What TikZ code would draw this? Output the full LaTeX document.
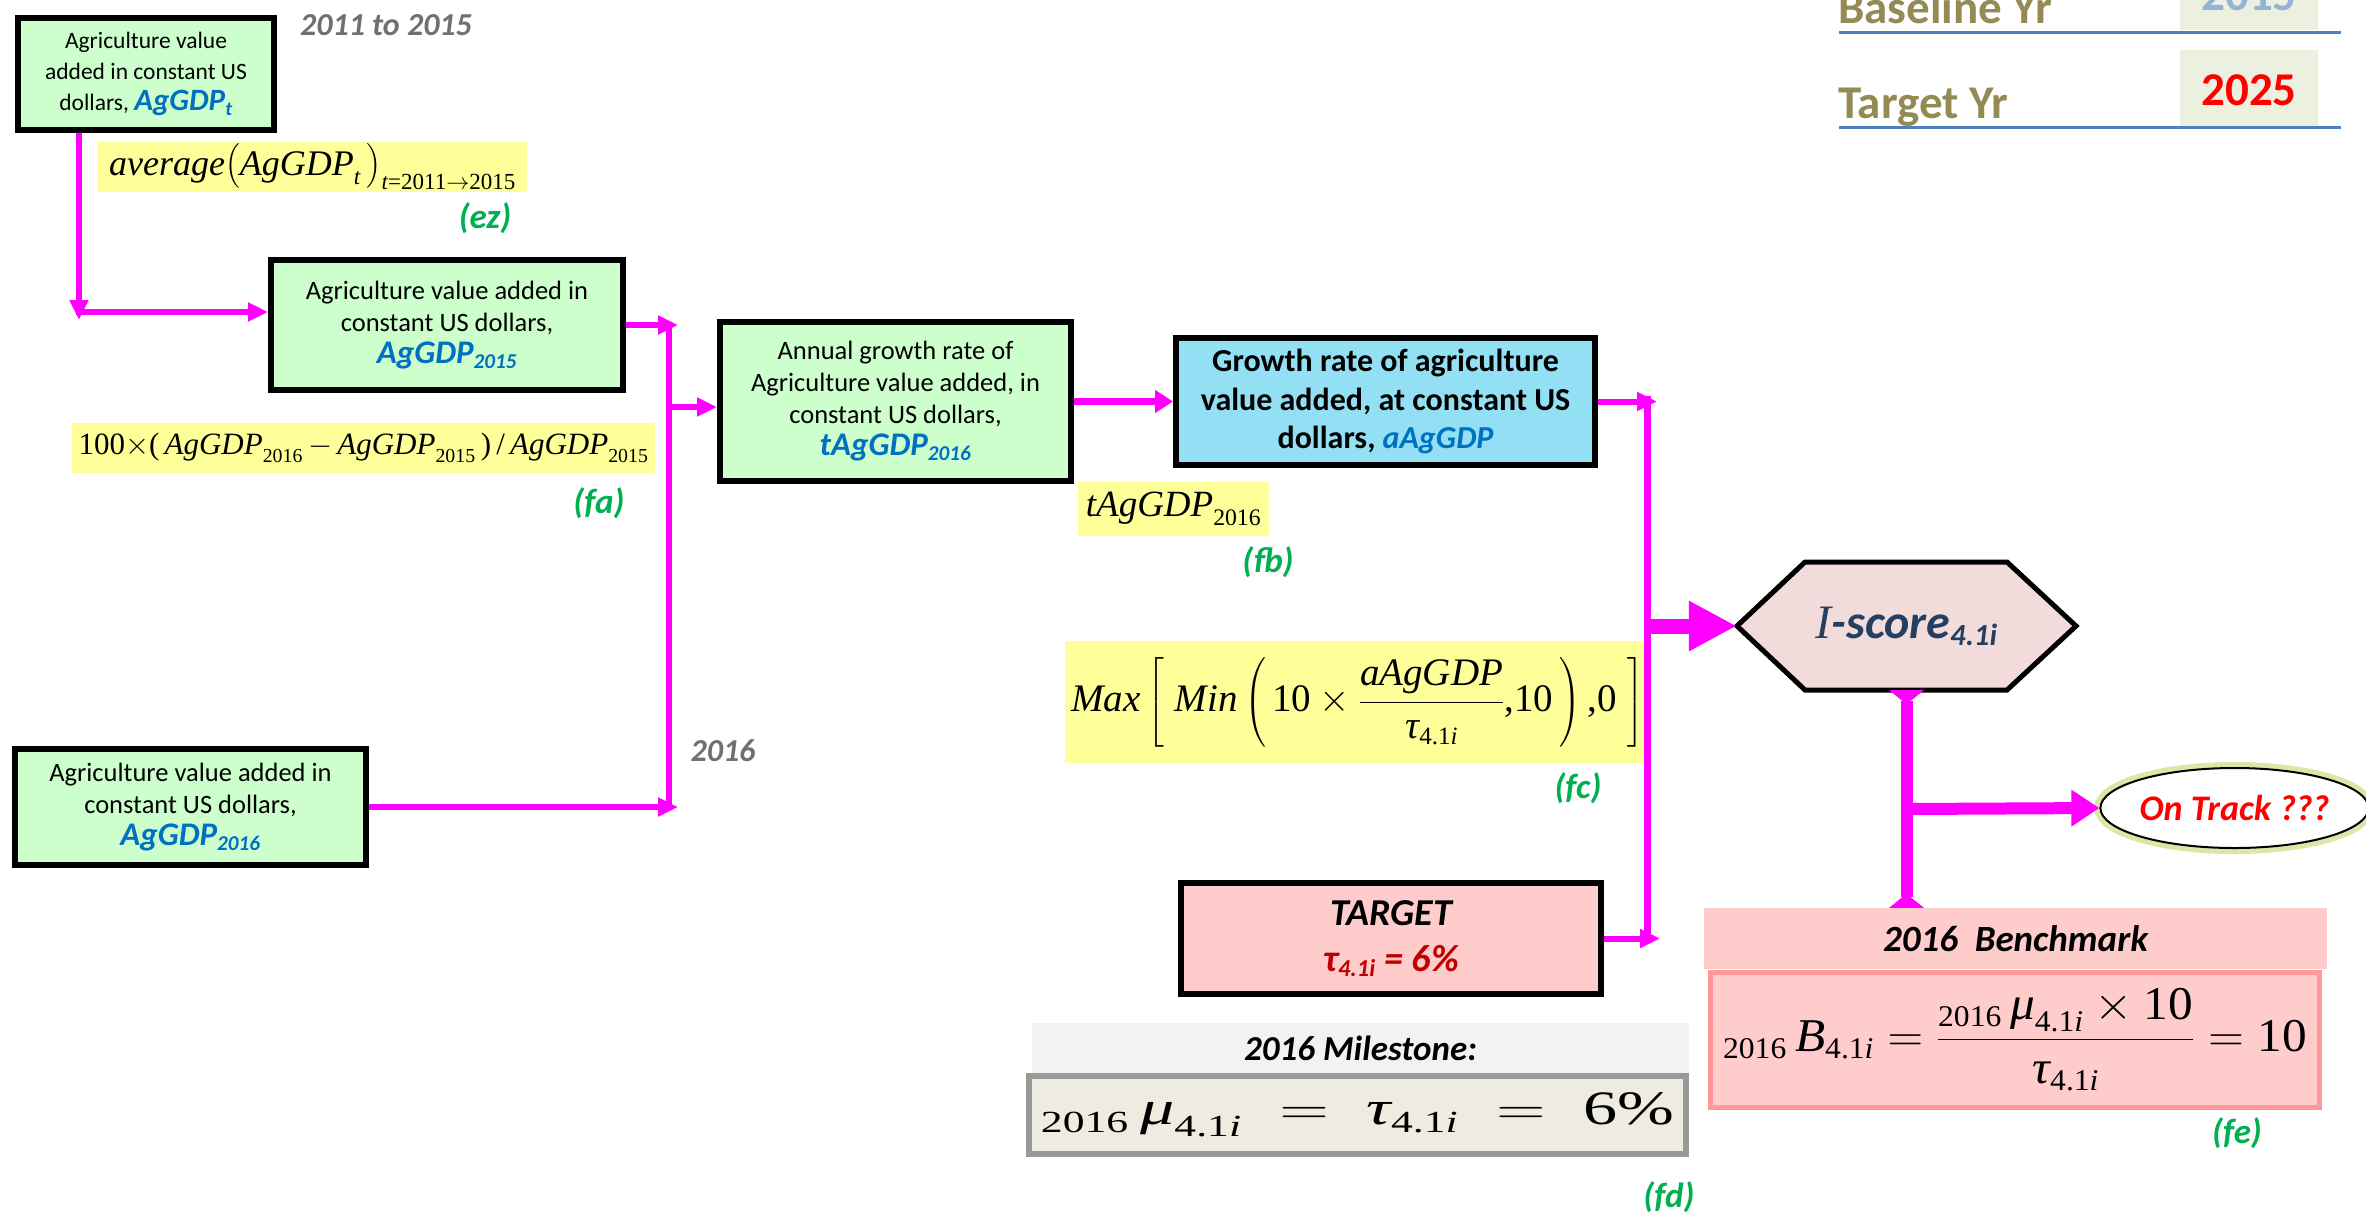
\documentclass[tikz,border=0pt]{standalone}
\usepackage{fix-cm}
\usepackage{amsmath}
\usepackage{graphicx}
\usepackage{fontspec}
\setmainfont{Carlito}
\newfontfamily\tms{Liberation Serif}
\usetikzlibrary{arrows.meta,shapes.geometric}
\renewcommand\defaultscriptratio{.64}
\definecolor{magc}{HTML}{FF00FF}
\definecolor{greenf}{HTML}{CCFFCC}
\definecolor{cyanf}{HTML}{93DFF3}
\definecolor{yellowf}{HTML}{FFFF99}
\definecolor{pinkf}{HTML}{FFCCCC}
\definecolor{bluet}{HTML}{0070C0}
\definecolor{greenl}{HTML}{00B050}
\definecolor{grayl}{HTML}{707070}
\definecolor{hexf}{HTML}{F2DCDB}
\definecolor{hexblue}{HTML}{243F60}
\definecolor{olive}{HTML}{948A54}
\definecolor{ulc}{HTML}{4F81BD}
\definecolor{lightg}{HTML}{EBF1DE}
\definecolor{lblue}{HTML}{95B3D7}
\definecolor{darkred}{HTML}{C00000}
\definecolor{msband}{HTML}{F2F2F2}
\definecolor{msfill}{HTML}{EEECE1}
\definecolor{msborder}{HTML}{999999}
\definecolor{bborder}{HTML}{FF9999}
\definecolor{glowc}{HTML}{D9E8A6}
\newcommand\fs[2]{\fontsize{#1}{#2}\selectfont}
\newcommand\ti[1]{\text{\tms\itshape #1}}
\newcommand\tu[1]{\text{\tms\upshape #1}}
\newcommand\vv[1]{{\color{bluet}\bfseries\itshape\fs{33}{36}#1}}
\tikzset{
  mag/.style={draw=magc, line width=6pt},
  gbox/.style={draw=black, line width=6pt, fill=greenf, align=center, inner sep=0pt, font=\fs{26.5}{32}},
  ybox/.style={fill=yellowf, inner sep=0pt},
  lbl/.style={text=greenl, font=\fs{35}{38}\bfseries\itshape, inner sep=0pt},
  glbl/.style={text=grayl, font=\fs{32}{34}\bfseries\itshape, inner sep=0pt},
  tipS/.style={-{Triangle[length=20pt,width=18pt]}},
  flare/.style={{Triangle[reversed,length=14pt,width=34pt]}-{Triangle[reversed,length=14pt,width=34pt]}}
}
\begin{document}
\begin{tikzpicture}[x=1pt,y=-1pt]
\useasboundingbox (0,0) rectangle (2366,1224);
\fill[white] (0,0) rectangle (2366,1224);
\begin{scope}
\clip (0,0) rectangle (2366,1224);

% top right legend
\node[fill=lightg, minimum width=138pt, minimum height=77pt, inner sep=0pt] (b15box) at (2249,-8.5) {};
\node[anchor=base, text=lblue, font=\fs{47}{50}\bfseries, inner sep=0pt] (b15) at (2249,10) {2015};
\node[fill=lightg, minimum width=138pt, minimum height=77pt, inner sep=0pt] (b25box) at (2249,88.5) {};
\node[anchor=base, text=red, font=\fs{47}{50}\bfseries, inner sep=0pt] (b25) at (2249,105) {2025};
\node[anchor=base west, text=olive, font=\fs{47}{50}\bfseries, inner sep=0pt] (basey) at (1838,23) {Baseline Yr};
\node[anchor=base west, text=olive, font=\fs{47}{50}\bfseries, inner sep=0pt] (targy) at (1838,118) {Target Yr};
\draw[ulc, line width=3pt] (1839,32) -- (2341,32);
\draw[ulc, line width=3pt] (1839,127) -- (2341,127);

% green boxes
\node[gbox, minimum width=256pt, minimum height=112pt, font=\fs{23.5}{31}] (box1) at (146,74)
  {Agriculture value\\added in constant US\\dollars,\ {\color{bluet}\bfseries\itshape\fs{31}{33}AgGDP\textsubscript{t}}};
\node[gbox, minimum width=352pt, minimum height=130pt] (box2) at (447,325)
  {Agriculture value added in\\constant US dollars,\\\vv{AgGDP\textsubscript{2015}}};
\node[gbox, minimum width=351pt, minimum height=116pt] (box0) at (190.5,807)
  {Agriculture value added in\\constant US dollars,\\\vv{AgGDP\textsubscript{2016}}};
\node[gbox, minimum width=351pt, minimum height=159pt] (box3) at (895.5,401.5)
  {Annual growth rate of\\Agriculture value added, in\\constant US dollars,\\\vv{tAgGDP\textsubscript{2016}}};
\node[draw=black, line width=6pt, fill=cyanf, align=center, inner sep=0pt, font=\fs{32}{38.5}\bfseries,
  minimum width=419pt, minimum height=127pt] (box4) at (1385.5,401.5)
  {Growth rate of agriculture\\value added, at constant US\\dollars, {\color{bluet}\itshape aAgGDP}};
\node[draw=black, line width=6pt, fill=pinkf, align=center, inner sep=0pt, font=\fs{38}{46}\bfseries\itshape,
  minimum width=420pt, minimum height=111pt] (target) at (1391,938.5)
  {TARGET\\{\color{darkred}τ\textsubscript{4.1i} = 6\%}};

% gray labels
\node[glbl] (yrs) at (386,25) {2011 to 2015};
\node[glbl] (y16) at (723,751) {2016};

% yellow formulas
\node[ybox, minimum width=429pt, minimum height=50pt, font=\fs{36}{40}] (fez) at (312.5,167)
  {\(\ti{average}\big(\ti{AgGDP}_{\ti{t}}\,\big)_{\ti{t}\tu{=2011}\rightarrow\tu{2015}}\)};
\node[ybox, minimum width=583pt, minimum height=50pt, font=\fs{31}{34}] (ffa) at (363.5,448)
  {\(\tu{100}{\times}\tu{(}\,\ti{AgGDP}_{\tu{2016}}\,{-}\,\ti{AgGDP}_{\tu{2015}}\,\tu{)}\,\tu{/}\,\ti{AgGDP}_{\tu{2015}}\)};
\node[ybox, minimum width=191pt, minimum height=54pt, font=\fs{37}{40}] (ffb) at (1173.5,509)
  {\(\ti{tAgGDP}_{\tu{2016}}\)};
\node[ybox, minimum width=586pt, minimum height=122pt, font=\fs{39}{42}] (ffc) at (1358,702)
  {\(\ti{Max}\left[\;\ti{Min}\left(\,\tu{10}\times\dfrac{\ti{aAgGDP}}{\ti{τ}_{\tu{4.1}\ti{i}}}\tu{,10}\,\right)\tu{,0}\;\right]\)};

% green labels
\node[lbl] (lez) at (485,218) {(ez)};
\node[lbl] (lfa) at (599,503) {(fa)};
\node[lbl] (lfb) at (1268,562) {(fb)};
\node[lbl] (lfc) at (1578,788) {(fc)};
\node[lbl] (lfd) at (1669,1197) {(fd)};
\node[lbl] (lfe) at (2237,1133) {(fe)};

% milestone
\node[fill=msband, minimum width=657pt, minimum height=50pt, inner sep=0pt, font=\fs{35}{38}\bfseries\itshape] (mhead) at (1360.5,1048) {2016 Milestone:};
\node[draw=msborder, line width=6pt, fill=msfill, minimum width=657pt, minimum height=78pt, inner sep=0pt, font=\fs{48}{52}] (mbox) at (1357.5,1115)
  {\scalebox{1.42}[1]{\({}_{\tu{2016}}\,\ti{μ}_{\tu{4.1}\ti{i}}\;=\;\ti{τ}_{\tu{4.1}\ti{i}}\;=\;\tu{6\%}\)}};

% benchmark
\node[fill=pinkf, minimum width=623pt, minimum height=61pt, inner sep=0pt, font=\fs{37}{40}\bfseries\itshape] (bhead) at (2015.5,938.5) {2016\ \ Benchmark};
\node[draw=bborder, line width=5pt, fill=pinkf, minimum width=609pt, minimum height=135pt, inner sep=0pt, font=\fs{47}{50}] (bbox) at (2015,1040)
  {\scalebox{1.05}[1]{\({}_{\tu{2016}}\,\ti{B}_{\tu{4.1}\ti{i}}=\dfrac{{}_{\tu{2016}}\,\ti{μ}_{\tu{4.1}\ti{i}}\times\tu{10}}{\ti{τ}_{\tu{4.1}\ti{i}}}=\tu{10}\)}};

% I-score hexagon
\draw[fill=hexf, line width=5pt, line join=miter] (1737,626) -- (1805,562) -- (2007,562) -- (2076,626) -- (2007,690) -- (1805,690) -- cycle;
\node[minimum width=339pt, minimum height=128pt, inner sep=0pt, text=hexblue, font=\fs{48}{52}\bfseries\itshape] (iscore) at (1906.5,626)
  {{\tms\mdseries\itshape I}-score\textsubscript{4.1i}};

% On track
\node[ellipse, draw=black, line width=2pt, fill=white, preaction={draw=glowc, line width=12pt},
  minimum width=263pt, minimum height=80pt, inner sep=0pt, text=red, font=\fs{36}{38}\bfseries\itshape] (ontrack) at (2234.5,808) {On Track ???};

% connectors
\coordinate (c1) at (79,320);
\coordinate (c1h) at (76,312);
\coordinate (j1top) at (669,322);
\coordinate (j1bot) at (669,806);
\coordinate (j1a) at (678,325);
\coordinate (j1b) at (678,807);
\coordinate (j1m) at (669,407);
\coordinate (j2top) at (1647,396);
\coordinate (j2bot) at (1647,941);
\coordinate (j2a) at (1657,401.5);
\coordinate (j2b) at (1660,938.5);
\coordinate (j2m) at (1647,626);
\coordinate (ot0) at (1906.5,809);

\draw[mag, tipS] (box1.south -| c1) -- (c1);
\draw[mag, tipS] (c1h) -- (c1h -| box2.west);
\draw[mag] (j1top) -- (j1bot);
\draw[mag, tipS] (box2.east) -- (j1a);
\draw[mag, tipS] (box0.east) -- (j1b);
\draw[mag, tipS] (j1m) -- (j1m -| box3.west);
\draw[mag, line width=7pt, -{Triangle[length=18pt,width=22pt]}] (box3.east) -- (box4.west);
\draw[mag, line width=7pt] (j2top) -- (j2bot);
\draw[mag, tipS] (box4.east) -- (j2a);
\draw[mag, tipS] (target.east) -- (j2b);
\draw[mag, line width=15pt, -{Triangle[length=48pt,width=47pt]}] (j2m) -- (iscore.west);
\draw[mag, line width=12pt, flare] (iscore.south) -- (iscore.south |- bhead.north);
\draw[mag, line width=12pt, -{Triangle[length=28pt,width=35pt]}] (ot0) -- (ontrack.west);
\end{scope}
\end{tikzpicture}
\end{document}
